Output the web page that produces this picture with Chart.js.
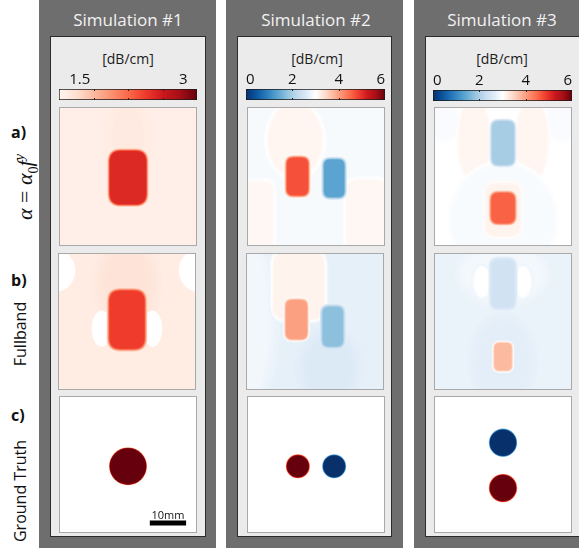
<!DOCTYPE html>
<html>
<head>
<meta charset="utf-8">
<script src="https://cdn.jsdelivr.net/npm/chart.js@4.4.1/dist/chart.umd.min.js"></script>
<style>
  body { margin: 0; background: #fff; }
  #fig { position: relative; width: 579px; height: 548px; overflow: hidden; font-family: "Open Sans", sans-serif; }
  .col { position: absolute; top: 0; height: 548px; background: #6e6e6e; }
  .inner { position: absolute; top: 36px; height: 501px; background: #ebebeb; border: 1px solid #2b2b2b; box-sizing: border-box; }
  .title { position: absolute; top: 8px; width: 160px; text-align: center; color: #f2f2f2; font-size: 17px; line-height: 24px; }
  .unit { position: absolute; top: 49px; width: 120px; text-align: center; font-size: 14px; line-height: 20px; color: #1a1a1a; }
  .tag { position: absolute; left: 11px; font-weight: bold; font-size: 16px; line-height: 18px; color: #111; }
  .rot { position: absolute; height: 22px; line-height: 22px; text-align: center; white-space: nowrap; transform: rotate(-90deg); font-size: 16px; color: #111; }
  .math { font-family: "Liberation Serif", "DejaVu Serif", serif; font-size: 22px; height: 30px; line-height: 30px; }
  .sbar { position: absolute; left: 148px; top: 508px; width: 40px; text-align: center; font-size: 11px; line-height: 14px; color: #111; }
  canvas { position: absolute; }
</style>
</head>
<body>
<div id="fig">
  <div class="col" style="left:39px; width:177px"></div>
  <div class="col" style="left:226px; width:177px"></div>
  <div class="col" style="left:414px; width:170px"></div>
  <div class="inner" style="left:50px; width:156px"></div>
  <div class="inner" style="left:237px; width:155px"></div>
  <div class="inner" style="left:425px; width:160px"></div>

  <div class="title" style="left:48px">Simulation #1</div>
  <div class="title" style="left:236px">Simulation #2</div>
  <div class="title" style="left:422px">Simulation #3</div>
  <div class="unit" style="left:68px">[dB/cm]</div>
  <div class="unit" style="left:257px">[dB/cm]</div>
  <div class="unit" style="left:442px">[dB/cm]</div>

  <div class="tag" style="top:123px">a)</div>
  <div class="tag" style="top:271px">b)</div>
  <div class="tag" style="top:406px">c)</div>
  <div class="rot math" style="left:-32px; top:172px; width:104px"><i>α</i> = <i>α</i><sub style="font-size:14px">0</sub><i>f</i><sup style="font-size:14px"><i>y</i></sup></div>
  <div class="rot" style="left:-30px; top:323px; width:100px">Fullband</div>
  <div class="rot" style="left:-45px; top:480px; width:130px">Ground Truth</div>

  <canvas id="cb1" width="178" height="31" style="left:39px; top:69px"></canvas>
  <canvas id="cb2" width="179" height="31" style="left:226px; top:69px"></canvas>
  <canvas id="cb3" width="179" height="31" style="left:413px; top:70px"></canvas>

  <canvas id="p1a" width="138" height="139" style="left:59px; top:107px"></canvas>
  <canvas id="p1b" width="138" height="137" style="left:58px; top:253px"></canvas>
  <canvas id="p1c" width="138" height="137" style="left:59px; top:396px"></canvas>
  <canvas id="p2a" width="138" height="139" style="left:247px; top:107px"></canvas>
  <canvas id="p2b" width="138" height="137" style="left:246px; top:253px"></canvas>
  <canvas id="p2c" width="138" height="137" style="left:247px; top:396px"></canvas>
  <canvas id="p3a" width="138" height="139" style="left:434px; top:107px"></canvas>
  <canvas id="p3b" width="138" height="137" style="left:434px; top:253px"></canvas>
  <canvas id="p3c" width="138" height="137" style="left:434px; top:396px"></canvas>
  <div class="sbar">10mm</div>
</div>
<script>
// colour maps
const REDS = ['#fff5f0', '#fee0d2', '#fcbba1', '#fc9272', '#fb6a4a', '#ef3b2c', '#cb181d', '#a50f15', '#67000d'];
const BLUES = ['#ffffff', '#deebf7', '#c6dbef', '#9ecae1', '#6baed6', '#4292c6', '#2171b5', '#08519c', '#08306b'];
const REDS_W = ['#ffffff'].concat(REDS.slice(1));

// colour bar ranges and ticks [dB/cm]
const cbar1Range = [1.2, 3.2];
const cbar1Ticks = [1.5, 3];
const cbar1Marks = [1.7, 2.2, 2.7];
const cbar23Range = [0, 6];
const cbar23Ticks = [0, 2, 4, 6];
const cbar23Marks = [2, 4];

// image half width in mm
const halfWidth = 19;

// background attenuation per row (a, b, c)
const sim1Bg = [1.27, 1.31, 0];
const sim2Bg = [2.9, 2.72, 3.0];
const sim3Bg = [3.0, 2.76, 3.0];

// regions: [x mm, y mm, width mm, height mm, value dB/cm, edge mm, shape]
const sim1PowerLaw = [
  [0, 10, 8, 20, 1.33, 4, 'e'],
  [0, -0.3, 10, 14.7, 2.58, 0.7, 'r']
];
const sim1Fullband = [
  [0, 10, 12, 20, 1.4, 4, 'e'],
  [-19.5, 14, 9, 10, 1.0, 1, 'e'],
  [19.5, 14, 9, 10, 1.0, 1, 'e'],
  [-7, -2, 4.5, 9, 1.0, 0.6, 'e'],
  [7, -2, 4.5, 9, 1.0, 0.6, 'e'],
  [0, 0.5, 9.6, 16, 2.45, 0.8, 'r']
];
const sim1Truth = [
  [0, -0.5, 10, 10, 3.2, 0.4, 'e']
];
const sim2PowerLaw = [
  [-5.75, 10, 14.5, 20, 3.12, 1.5, 'e'],
  [14, -11, 11, 20, 3.1, 1.2, 'r'],
  [-16, -11, 8, 19, 3.1, 1.2, 'r'],
  [-5.1, 0, 5.8, 10.3, 4.7, 0.8, 'r'],
  [5, -0.5, 5.5, 10.3, 1.35, 0.8, 'r']
];
const sim2Fullband = [
  [-17, 0, 8, 38, 2.85, 4, 'e'],
  [4, -13, 12, 16, 2.6, 4, 'e'],
  [-4.5, 10, 14, 19, 3.15, 1.2, 'r'],
  [-5.1, 0.55, 5.8, 10.8, 4.0, 0.8, 'r'],
  [4.9, -1.4, 5.5, 10.8, 1.74, 0.8, 'r']
];
const sim2Truth = [
  [-5, -0.5, 6, 6, 6, 0.35, 'e'],
  [5, -0.5, 6, 6, 0, 0.35, 'e']
];
const sim3PowerLaw = [
  [-16.5, 15, 8, 9, 2.93, 1.5, 'e'],
  [16.5, 15, 8, 9, 2.93, 1.5, 'e'],
  [-8, 10, 8, 22, 3.12, 1, 'e'],
  [8, 10, 8, 22, 3.12, 1, 'e'],
  [0, -12, 28, 30, 2.92, 1.5, 'e'],
  [0, -9.2, 9, 14, 3.15, 1, 'r'],
  [0, 9.2, 6, 12, 1.95, 0.8, 'r'],
  [0, -8.7, 6.4, 8.3, 4.56, 0.8, 'r']
];
const sim3Fullband = [
  [0, 13, 22, 14, 2.86, 3, 'e'],
  [0, -11, 14, 22, 2.68, 3, 'e'],
  [-5.8, 10.9, 4, 8, 3.0, 1, 'e'],
  [5.5, 10.9, 4, 8, 3.0, 1, 'e'],
  [0, 10.4, 6, 13, 2.42, 1, 'r'],
  [0, -9.7, 4.7, 7.5, 3.75, 0.7, 'r']
];
const sim3Truth = [
  [0, 6, 7.2, 7.2, 0, 0.35, 'e'],
  [0, -6.5, 7.2, 7.2, 6, 0.35, 'e']
];

// 10 mm scale bar
const scaleBarX = [6, 16];
const scaleBarY = -16.1;

function hexRgb(h) {
  return [parseInt(h.slice(1, 3), 16), parseInt(h.slice(3, 5), 16), parseInt(h.slice(5, 7), 16)];
}
function sample(stops, t) {
  t = Math.min(1, Math.max(0, t));
  const p = t * (stops.length - 1);
  const i = Math.min(stops.length - 2, Math.floor(p));
  const f = p - i;
  const a = hexRgb(stops[i]), b = hexRgb(stops[i + 1]);
  return 'rgb(' + a.map((c, k) => Math.round(c + (b[k] - c) * f)).join(',') + ')';
}
function redsMap(v) {
  if (v < cbar1Range[0]) return '#ffffff';
  return sample(REDS, (v - cbar1Range[0]) / (cbar1Range[1] - cbar1Range[0]));
}
function divMap(v) {
  const mid = (cbar23Range[0] + cbar23Range[1]) / 2;
  if (v >= mid) return sample(REDS_W, (v - mid) / (cbar23Range[1] - mid));
  return sample(BLUES, (mid - v) / (mid - cbar23Range[0]));
}

function shapePath(ctx, cx, cy, rw, rh, shape, corner) {
  ctx.beginPath();
  if (shape === 'e') {
    ctx.ellipse(cx, cy, rw, rh, 0, 0, Math.PI * 2);
  } else {
    const r = Math.min(corner, rw, rh);
    const l = cx - rw, t = cy - rh, rr = cx + rw, b = cy + rh;
    ctx.moveTo(l + r, t);
    ctx.lineTo(rr - r, t);
    ctx.quadraticCurveTo(rr, t, rr, t + r);
    ctx.lineTo(rr, b - r);
    ctx.quadraticCurveTo(rr, b, rr - r, b);
    ctx.lineTo(l + r, b);
    ctx.quadraticCurveTo(l, b, l, b - r);
    ctx.lineTo(l, t + r);
    ctx.quadraticCurveTo(l, t, l + r, t);
    ctx.closePath();
  }
}

// per-panel settings, kept outside the chart options so Chart.js does not resolve them
const fieldSpecs = {};

// paints the attenuation map from the region list, using the chart scales
const fieldPlugin = {
  id: 'field',
  beforeDatasetsDraw(chart) {
    const o = fieldSpecs[chart.canvas.id];
    if (!o) return;
    const { ctx, chartArea: a } = chart;
    const x = chart.scales.x;
    const mm = Math.abs(x.getPixelForValue(1) - x.getPixelForValue(0));
    ctx.save();
    ctx.beginPath();
    ctx.rect(a.left, a.top, a.width, a.height);
    ctx.clip();
    ctx.fillStyle = o.cmap(o.bg);
    ctx.fillRect(a.left, a.top, a.width, a.height);
    const meta = chart.getDatasetMeta(0);
    const steps = 6;
    o.regions.forEach((r, i) => {
      const el = meta.data[i];
      const [, , w, h, v, soft, shape] = r;
      for (let k = steps; k >= 0; k--) {
        const g = soft * k / steps;
        const val = v + (o.bg - v) * k / (steps + 1);
        shapePath(ctx, el.x, el.y, (w / 2 + g) * mm, (h / 2 + g) * mm, shape, (0.3 * Math.min(w, h) + g) * mm);
        ctx.fillStyle = o.cmap(val);
        ctx.fill();
      }
    });
    ctx.restore();
  },
  afterDraw(chart) {
    if (!fieldSpecs[chart.canvas.id]) return;
    const { ctx, width, height } = chart;
    ctx.save();
    ctx.strokeStyle = '#a9a9a9';
    ctx.lineWidth = 1;
    ctx.strokeRect(0.5, 0.5, width - 1, height - 1);
    ctx.restore();
  }
};

// small inward tick marks on the colour bars
const marksPlugin = {
  id: 'marks',
  afterDatasetsDraw(chart) {
    const o = chart.options.plugins.marks;
    if (!o || !o.list) return;
    const { ctx, chartArea: a } = chart;
    ctx.save();
    ctx.strokeStyle = '#222';
    ctx.lineWidth = 1;
    o.list.forEach(v => {
      const px = Math.round(chart.scales.x.getPixelForValue(v)) + 0.5;
      ctx.beginPath();
      ctx.moveTo(px, a.top);
      ctx.lineTo(px, a.top + 2);
      ctx.moveTo(px, a.bottom);
      ctx.lineTo(px, a.bottom - 2);
      ctx.stroke();
    });
    ctx.restore();
  }
};

Chart.register(fieldPlugin, marksPlugin);

function panel(id, regions, bg, cmap, extra) {
  const cv = document.getElementById(id);
  const halfH = halfWidth * cv.height / cv.width;
  fieldSpecs[id] = { regions, bg, cmap };
  const datasets = [{
    data: regions.map(r => ({ x: r[0], y: r[1] })),
    pointRadius: 0,
    pointHoverRadius: 0
  }];
  if (extra) datasets.push(extra);
  new Chart(cv, {
    type: 'scatter',
    data: { datasets },
    options: {
      responsive: false,
      animation: false,
      events: [],
      layout: { padding: 0 },
      plugins: {
        legend: { display: false },
        tooltip: { enabled: false }
      },
      scales: {
        x: { type: 'linear', min: -halfWidth, max: halfWidth, display: false },
        y: { type: 'linear', min: -halfH, max: halfH, display: false }
      }
    }
  });
}

function colorbar(id, range, ticks, marks, cmap, align) {
  new Chart(document.getElementById(id), {
    type: 'bar',
    data: {
      labels: [''],
      datasets: [{
        data: [range],
        backgroundColor(c) {
          const area = c.chart.chartArea;
          if (!area) return '#ffffff';
          const sx = c.chart.scales.x;
          const x0 = sx.getPixelForValue(range[0]), x1 = sx.getPixelForValue(range[1]);
          const grad = c.chart.ctx.createLinearGradient(x0, 0, x1, 0);
          for (let i = 0; i <= 40; i++) {
            grad.addColorStop(i / 40, cmap(range[0] + (range[1] - range[0]) * i / 40));
          }
          return grad;
        },
        borderColor: '#1a1a1a',
        borderWidth: 1,
        borderSkipped: false,
        barPercentage: 1,
        categoryPercentage: 1
      }]
    },
    options: {
      indexAxis: 'y',
      responsive: false,
      animation: false,
      events: [],
      layout: { padding: { left: 20, right: 20, top: 0, bottom: 0 } },
      plugins: {
        legend: { display: false },
        tooltip: { enabled: false },
        marks: { list: marks }
      },
      scales: {
        x: {
          type: 'linear',
          position: 'top',
          min: range[0],
          max: range[1],
          grid: { display: false, drawTicks: false },
          border: { display: false },
          afterBuildTicks(s) { s.ticks = ticks.map(v => ({ value: v })); },
          afterFit(s) { s.height = 20; },
          ticks: {
            padding: 0,
            align,
            color: '#111',
            font: { family: 'Open Sans', size: 15 },
            callback: v => String(v)
          }
        },
        y: { display: false }
      }
    }
  });
}

colorbar('cb1', cbar1Range, cbar1Ticks, cbar1Marks, redsMap, 'center');
colorbar('cb2', cbar23Range, cbar23Ticks, cbar23Marks, divMap, 'inner');
colorbar('cb3', cbar23Range, cbar23Ticks, cbar23Marks, divMap, 'inner');

const scaleBar = {
  type: 'line',
  data: [{ x: scaleBarX[0], y: scaleBarY }, { x: scaleBarX[1], y: scaleBarY }],
  borderColor: '#000',
  borderWidth: 5,
  borderCapStyle: 'butt',
  pointRadius: 0,
  showLine: true
};

panel('p1a', sim1PowerLaw, sim1Bg[0], redsMap);
panel('p1b', sim1Fullband, sim1Bg[1], redsMap);
panel('p1c', sim1Truth, sim1Bg[2], redsMap, scaleBar);
panel('p2a', sim2PowerLaw, sim2Bg[0], divMap);
panel('p2b', sim2Fullband, sim2Bg[1], divMap);
panel('p2c', sim2Truth, sim2Bg[2], divMap);
panel('p3a', sim3PowerLaw, sim3Bg[0], divMap);
panel('p3b', sim3Fullband, sim3Bg[1], divMap);
panel('p3c', sim3Truth, sim3Bg[2], divMap);
</script>
</body>
</html>
